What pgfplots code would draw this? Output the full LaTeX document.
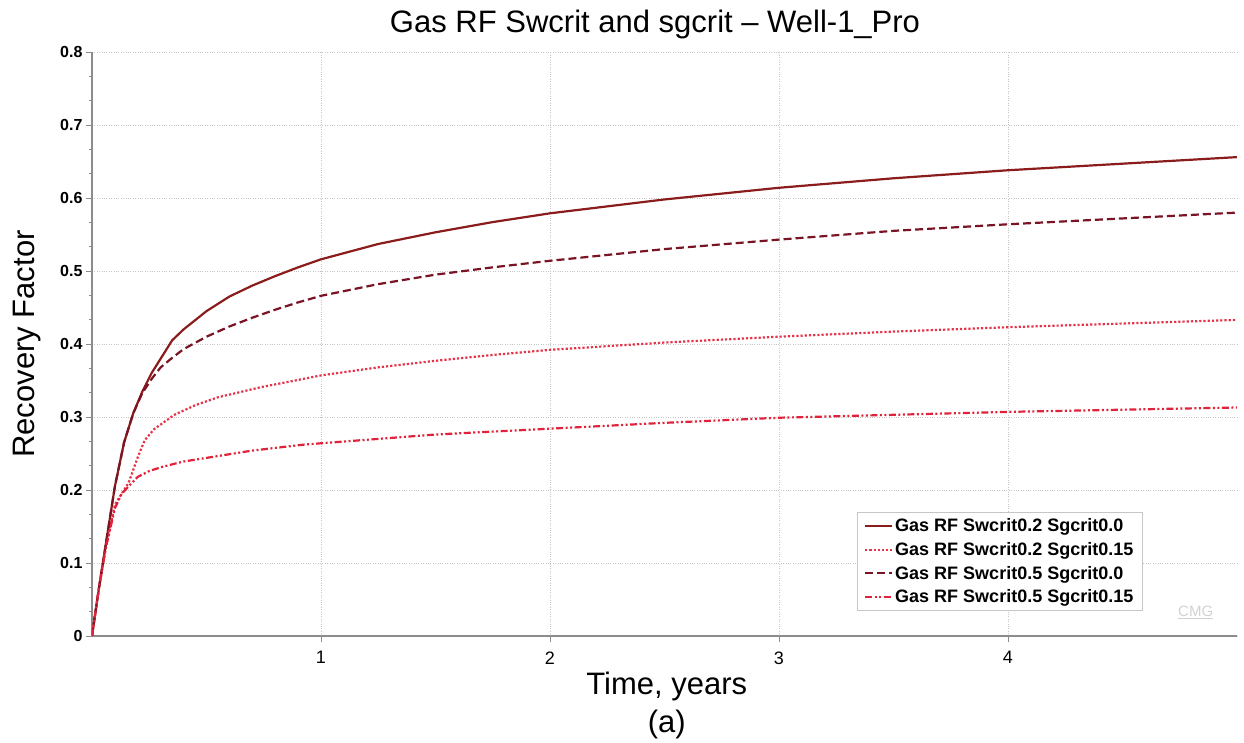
\documentclass[border=0pt]{standalone}
\usepackage{fontspec}
\setmainfont{Liberation Sans}
\usepackage{pgfplots}
\pgfplotsset{compat=1.18}
\definecolor{cSolid}{HTML}{8A1C1C}
\definecolor{cDot}{HTML}{E5334A}
\definecolor{cDash}{HTML}{7A1424}
\definecolor{cDashDot}{HTML}{E0223A}
\begin{document}
\begin{tikzpicture}
\useasboundingbox (-92pt,-107pt) rectangle (1152pt,636pt);
\begin{axis}[
  name=main,
  at={(0,0)}, anchor=south west,
  scale only axis, width=1145pt, height=584pt,
  xmin=0, xmax=5, ymin=0, ymax=0.8,
  xtick={1,2,3,4}, ytick={0,0.1,...,0.8},
  minor y tick num=2,
  axis x line*=bottom, axis y line*=left,
  axis line style={draw=gray!90, line width=1.5pt, -},
  tick style={draw=gray!90, line width=0.8pt},
  major tick length=6pt, minor tick length=3pt,
  tick align=outside,
  grid=major,
  major grid style={dotted, draw=gray!45, line width=0.9pt},
  /pgf/number format/assume math mode=true,
  yticklabel style={font=\bfseries\fontsize{16}{18}\selectfont},
  xticklabel style={font=\fontsize{18}{20}\selectfont, yshift=-6pt},
  scaled y ticks=false,
  yticklabel={\pgfmathprintnumber[fixed,precision=1]{\tick}},
  xlabel={Time, years\\(a)},
  xlabel style={align=center, font=\fontsize{31}{38}\selectfont, at={(axis description cs:0.502,0)}, anchor=north, yshift=-33pt},
  ylabel={Recovery Factor},
  ylabel style={font=\fontsize{31}{34}\selectfont, yshift=12pt},
  legend style={draw=gray!45, font=\bfseries\fontsize{18}{21}\selectfont,
    at={(axis description cs:0.668,0.212)}, anchor=north west, row sep=5pt,
    inner xsep=7pt, inner ysep=4.5pt},
  legend cell align=left,
  legend image code/.code={\draw[#1, line width=2.2pt] (-5pt,0pt) -- (22pt,0pt);},
]
\addplot[cSolid, line width=2.2pt] coordinates {
(0,0) (0.03,0.065) (0.06,0.125) (0.1,0.205) (0.14,0.265) (0.18,0.305) (0.22,0.335) (0.26,0.36) (0.3,0.38) (0.35,0.405) (0.4,0.42) (0.5,0.445) (0.6,0.465) (0.7,0.48) (0.8,0.493) (0.9,0.505) (1.0,0.516) (1.25,0.537) (1.5,0.553) (1.75,0.567) (2.0,0.579) (2.5,0.598) (3.0,0.614) (3.5,0.627) (4.0,0.638) (4.5,0.647) (5.0,0.656)};
\addlegendentry{Gas RF Swcrit0.2 Sgcrit0.0}
\addplot[cDot, line width=2.2pt, dotted] coordinates {
(0,0) (0.03,0.065) (0.06,0.12) (0.1,0.18) (0.12,0.19) (0.16,0.21) (0.2,0.245) (0.23,0.268) (0.27,0.283) (0.31,0.292) (0.36,0.303) (0.45,0.316) (0.55,0.327) (0.74,0.341) (0.92,0.352) (1.0,0.357) (1.25,0.368) (1.5,0.377) (1.75,0.385) (2.0,0.392) (2.5,0.402) (3.0,0.41) (3.5,0.417) (4.0,0.423) (4.5,0.428) (5.0,0.433)};
\addlegendentry{Gas RF Swcrit0.2 Sgcrit0.15}
\addplot[cDash, line width=2.2pt, dash pattern=on 8pt off 4pt] coordinates {
(0,0) (0.03,0.065) (0.06,0.125) (0.1,0.205) (0.14,0.265) (0.18,0.305) (0.22,0.333) (0.26,0.352) (0.3,0.368) (0.35,0.381) (0.4,0.393) (0.5,0.41) (0.6,0.424) (0.7,0.436) (0.8,0.447) (0.9,0.457) (1.0,0.466) (1.25,0.482) (1.5,0.495) (1.75,0.505) (2.0,0.514) (2.5,0.53) (3.0,0.543) (3.5,0.555) (4.0,0.564) (4.5,0.572) (5.0,0.58)};
\addlegendentry{Gas RF Swcrit0.5 Sgcrit0.0}
\addplot[cDashDot, line width=2.2pt, dash pattern=on 7pt off 2.5pt on 2pt off 2.5pt on 2pt off 2.5pt] coordinates {
(0,0) (0.03,0.065) (0.06,0.12) (0.1,0.175) (0.13,0.195) (0.16,0.205) (0.2,0.218) (0.25,0.226) (0.31,0.232) (0.4,0.239) (0.52,0.245) (0.7,0.254) (0.92,0.262) (1.0,0.264) (1.25,0.27) (1.5,0.276) (1.75,0.28) (2.0,0.284) (2.5,0.292) (3.0,0.299) (3.5,0.303) (4.0,0.307) (4.5,0.31) (5.0,0.313)};
\addlegendentry{Gas RF Swcrit0.5 Sgcrit0.15}
\node[font=\fontsize{15}{18}\selectfont, text=gray!35] at (axis description cs:0.964,0.04) {\underline{CMG}};
\end{axis}
\node[font=\fontsize{31}{35}\selectfont] at (563pt,612pt) {Gas RF Swcrit and sgcrit – Well-1\_Pro};
\end{tikzpicture}
\end{document}
